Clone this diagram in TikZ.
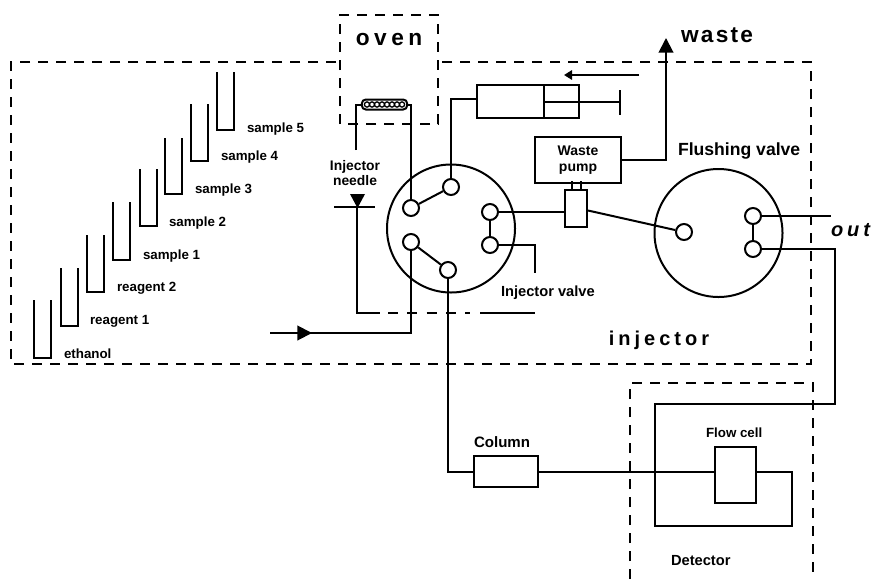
\documentclass[tikz,border=0pt]{standalone}
\usepackage{fontspec}
\setmainfont{Liberation Sans}
\newfontfamily\widefont[LetterSpace=20]{Liberation Sans}
\newfontfamily\halfwidefont[LetterSpace=10]{Liberation Sans}
\usepackage{tikz}
\usetikzlibrary{arrows.meta, positioning, calc}

\begin{document}
\begin{tikzpicture}[
    x=0.75pt, y=-0.75pt, line width=1.5pt,
    zone/.style={dash pattern=on 7.5pt off 6pt, line width=1.6pt},
    valve/.style={circle, draw, minimum size=96pt, inner sep=0pt},
    port/.style={circle, draw, fill=white, minimum size=12pt, inner sep=0pt},
    box/.style={rectangle, draw, fill=white, inner sep=0pt},
    lab/.style={inner sep=0pt, align=center, font=\bfseries\fontsize{10}{11.5}\selectfont},
    labm/.style={lab, font=\bfseries\fontsize{11.3}{11.5}\selectfont},
    labl/.style={lab, font=\bfseries\fontsize{13.2}{15}\selectfont},
    title/.style={inner sep=0pt, font=\widefont\bfseries\fontsize{15}{18}\selectfont},
    arr/.style={-{Triangle[length=6pt, width=7pt]}},
    arrbig/.style={-{Triangle[length=11pt, width=11pt]}}
]
\useasboundingbox (0,0) rectangle (873,579);
\draw[zone] (336,62) -- (11,62) -- (11,364) -- (811,364) -- (811,62) -- (438,62);
\draw[zone] (340,124) -- (340,15) -- (438,15) -- (438,124) -- cycle;
\draw[zone] (630,579) -- (630,383) -- (813,383) -- (813,579);

\foreach \vx/\vtop/\vbot/\vname/\vlx/\vly in {
    34/300/358/ethanol/63/354, 61/268/326/reagent 1/89/321,
    87/235/292/reagent 2/116/288, 113/202/260/sample 1/142/256,
    140/169/226/sample 2/168/223, 165/138/194/sample 3/194/190,
    191/104/161/sample 4/220/157, 217/72/130/sample 5/246/129}{
  \draw (\vx,\vtop) -- (\vx,\vbot) -- (\vx+17,\vbot) -- (\vx+17,\vtop);
  \node[lab, anchor=west] (vial\vx) at (\vlx,\vly) {\vname};
}

\node[valve] (injv) at (451,228.5) {};
\node[valve] (flushv) at (718.5,233) {};
\node[port] (ia) at (451,187) {};
\node[port] (ib) at (411,208) {};
\node[port] (ic) at (411,242) {};
\node[port] (id) at (448,270) {};
\node[port] (ie) at (490,212) {};
\node[port] (if) at (490,245) {};
\node[port] (fa) at (684,232) {};
\node[port] (fb) at (753,216) {};
\node[port] (fc) at (753,249) {};

\node[box, minimum width=50.25pt, minimum height=24.75pt] (barrel) at (510.5,101.5) {};
\node[box, minimum width=26.25pt, minimum height=24.75pt] (piston) at (561.5,101.5) {};
\node[box, minimum width=65pt, minimum height=34pt, labm, font=\bfseries\fontsize{10.5}{12.5}\selectfont] (pump) at (578,160) {Waste\\pump};
\node[box, minimum width=16.5pt, minimum height=28pt] (switch) at (576,208.5) {};
\node[box, minimum width=48pt, minimum height=23pt] (column) at (506,471.5) {};
\node[box, minimum width=30.75pt, minimum height=42pt] (cell) at (735.5,475) {};
\node[draw, fill=white, rounded corners=3pt, minimum width=34pt, minimum height=7.5pt, inner sep=0pt] (coil) at (384.5,104.5) {};
\foreach \cx in {367,372,...,402}{
  \draw[line width=1pt] (\cx,104.5) circle (2.6);
}

\coordinate (barrelin) at (477,99);
\coordinate (rodend) at (620,101.5);
\coordinate (rodtop) at (620,90);
\coordinate (rodbot) at (620,115);
\coordinate (pusha) at (639,75);
\coordinate (pushb) at (564,75);
\coordinate (wastetip) at (666,38);
\coordinate (wastecor) at (666,160);
\coordinate (needletop) at (356,150);
\coordinate (barl) at (334,207);
\coordinate (barr) at (375,207);
\coordinate (barm) at (357,207);
\coordinate (linecor) at (357,313);
\coordinate (linea) at (380,313);
\coordinate (lineb) at (388,313);
\coordinate (linec) at (470,313);
\coordinate (lined) at (480,313);
\coordinate (linee) at (535,313);
\coordinate (stub) at (535,273);
\coordinate (feed) at (270,333);
\coordinate (feedmid) at (312,333);
\coordinate (outend) at (831,216);
\coordinate (cellout) at (792,526);
\coordinate (cellcor) at (655,526);
\coordinate (celltop) at (655,404);
\coordinate (retcor) at (835,404);

\draw (ia) |- (barrelin);
\draw (piston.west) -- (rodend);
\draw (rodtop) -- (rodbot);
\draw[arr] (pusha) -- (pushb);
\draw (needletop) |- (coil.west);
\draw (coil.east) -| (ib);
\draw (ia) -- (ib);
\draw (ic) -- (id);
\draw (ie) -- (if);
\draw (fb) -- (fc);
\draw (ie) -- (switch.west |- ie);
\draw ($(switch.east)+(0,2)$) -- (fa);
\draw (if) -| (stub);
\draw (fb) -- (outend);
\draw ($(switch.north)+(-4.5,0)$) -- ++(0,-8);
\draw ($(switch.north)+(4.5,0)$) -- ++(0,-8);
\draw[arrbig] (pump.east) -- (wastecor) -- (wastetip);
\fill (350,194) -- (365,194) -- (357.5,208) -- cycle;
\draw (barl) -- (barr);
\draw (barm) -- (linecor) -- (linea);
\draw[dash pattern=on 7.5pt off 7pt] (lineb) -- (linec);
\draw (lined) -- (linee);
\draw (ic) |- (feed);
\draw[arrbig] (feed) -- (feedmid);
\draw (id) |- (column.west);
\draw (column.east) -- (column.east -| cell.west);
\draw (cell.east |- column) -| (cellout) -- (cellcor) -- (celltop) -- (retcor) |- (fc);

\node[title, font=\widefont\bfseries\fontsize{17}{20}\selectfont] (oven) at (389,40) {oven};
\node[title] (injector) at (659,340) {injector};
\node[title, anchor=west, font=\halfwidefont\bfseries\fontsize{17}{20}\selectfont] (waste) at (680,35) {waste};
\node[title, anchor=west, font=\widefont\bfseries\itshape\fontsize{15}{18}\selectfont] (out) at (830,230) {out};
\node[lab, font=\bfseries\fontsize{10.4}{11}\selectfont] (needle) at (355,173) {Injector\\needle};
\node[labl, anchor=west] (flushlab) at (677,151) {Flushing valve};
\node[labm, font=\bfseries\fontsize{11}{12}\selectfont, anchor=west] (injlab) at (500,293) {Injector valve};
\node[labm, anchor=west] (collab) at (473,442) {Column};
\node[lab, anchor=west] (celllab) at (705,433) {Flow cell};
\node[labm, font=\bfseries\fontsize{11}{12}\selectfont, anchor=west] (detlab) at (670,561) {Detector};
\end{tikzpicture}
\end{document}
